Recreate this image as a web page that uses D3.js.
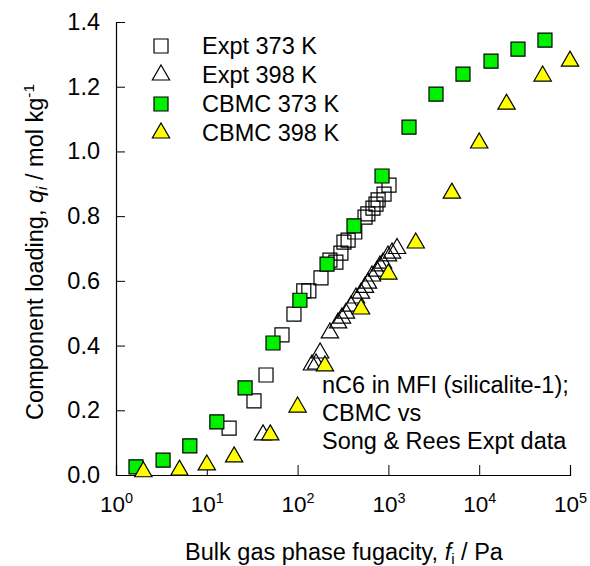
<!DOCTYPE html>
<html>
<head>
<meta charset="utf-8">
<script src="https://cdn.jsdelivr.net/npm/d3@7"></script>
<style>
  html, body { margin: 0; padding: 0; background: #fff; }
  svg { display: block; font-family: Arial, "Liberation Sans", Helvetica, sans-serif; }
</style>
</head>
<body>
<svg id="chart" width="590" height="566"></svg>
<script>
// nC6 adsorption isotherms in MFI: fugacity (Pa) vs loading (mol/kg)
const exptT373 = [
  [17.6, 0.145], [33.1, 0.229], [44.9, 0.309], [67.3, 0.433], [91.2, 0.497],
  [117, 0.569], [133, 0.569], [181, 0.609], [227, 0.664], [264, 0.658],
  [300, 0.686], [324, 0.720], [360, 0.726], [426, 0.751], [553, 0.797],
  [594, 0.807], [676, 0.825], [730, 0.837], [770, 0.850], [895, 0.868],
  [1015, 0.896]
];
const exptT398 = [
  [41.6, 0.124], [144, 0.340], [160, 0.343], [177, 0.377], [227, 0.439],
  [279, 0.470], [308, 0.485], [341, 0.500], [387, 0.522], [440, 0.547],
  [499, 0.562], [552, 0.580], [596, 0.593], [660, 0.615], [748, 0.630],
  [808, 0.646], [872, 0.655], [990, 0.677], [1097, 0.686], [1245, 0.700]
];
const cbmcT373 = [
  [1.66, 0.025], [3.3, 0.046], [6.5, 0.090], [12.9, 0.164], [26.4, 0.269],
  [53.6, 0.408], [106, 0.540], [211, 0.652], [418, 0.770], [851, 0.924],
  [1686, 1.075], [3344, 1.177], [6630, 1.239], [13490, 1.279], [26740, 1.316],
  [53000, 1.344]
];
const cbmcT398 = [
  [2, 0.010], [5, 0.015], [10, 0.031], [20, 0.056], [50, 0.124],
  [100, 0.210], [200, 0.337], [500, 0.513], [1000, 0.621], [2000, 0.717],
  [5000, 0.871], [10000, 1.026], [20000, 1.146], [50000, 1.233], [100000, 1.279]
];
const yTicks = [0, 0.2, 0.4, 0.6, 0.8, 1.0, 1.2, 1.4];
const xDecades = [0, 1, 2, 3, 4, 5];
const legendLabels = ["Expt 373 K", "Expt 398 K", "CBMC 373 K", "CBMC 398 K"];
const noteLines = ["nC6 in MFI (silicalite-1);", "CBMC vs", "Song & Rees Expt data"];

const svg = d3.select("#chart");
const FS = 23.5;
const TICK_FS = 22.5;
const GREEN = "#00f000";
const YELLOW = "#ffff00";

const x = d3.scaleLog().domain([1, 1e5]).range([116, 570]);
const y = d3.scaleLinear().domain([0, 1.4]).range([475, 22]);

// minor tick values
const xMinor = [];
for (let k = 0; k < 5; k++) for (let m = 2; m <= 9; m++) xMinor.push(m * Math.pow(10, k));
const yMinor = d3.range(0, 1.4001, 0.04).map(v => +v.toFixed(2))
  .filter(v => !yTicks.some(t => Math.abs(t - v) < 1e-6));

// y axis (ticks pointing into the plot)
const gy = svg.append("g").attr("transform", `translate(${x.range()[0]},0)`);
gy.call(d3.axisLeft(y).tickValues(yMinor).tickSize(-6).tickFormat(""));
gy.call(d3.axisLeft(y).tickValues(yTicks).tickSize(-9).tickPadding(16)
  .tickFormat(d3.format(".1f")));
gy.selectAll("path.domain").attr("stroke", "#000").attr("stroke-width", 1.2);
gy.selectAll("line").attr("stroke", "#000");
gy.selectAll("text").attr("font-size", FS).attr("fill", "#000").attr("font-family", null);

// x axis (log decades with superscript exponents)
const gx = svg.append("g").attr("transform", `translate(0,${y.range()[0]})`);
gx.call(d3.axisBottom(x).tickValues(xMinor).tickSize(-6).tickFormat(""));
gx.call(d3.axisBottom(x).tickValues(xDecades.map(e => Math.pow(10, e))).tickSize(-10)
  .tickPadding(12).tickFormat(""));
gx.selectAll("path.domain").attr("stroke", "#000").attr("stroke-width", 1.2);
gx.selectAll("line").attr("stroke", "#000");
gx.selectAll(".tick").filter(d => xDecades.some(e => Math.abs(Math.log10(d) - e) < 1e-9))
  .each(function(d) {
    const t = d3.select(this).select("text")
      .attr("font-size", TICK_FS).attr("fill", "#000").attr("font-family", null)
      .attr("dy", "1.1em");
    t.append("tspan").text("10");
    t.append("tspan").attr("font-size", TICK_FS * 0.64).attr("dy", "-0.6em")
      .text(Math.round(Math.log10(d)));
  });

// axis titles
const xt = svg.append("text").attr("x", 344).attr("y", 560).attr("text-anchor", "middle")
  .attr("font-size", FS);
xt.append("tspan").text("Bulk gas phase fugacity, ");
xt.append("tspan").attr("font-style", "italic").text("f");
xt.append("tspan").attr("font-size", FS * 0.65).attr("dy", "0.25em").text("i");
xt.append("tspan").attr("dy", "-0.17em").text(" / Pa");

const yt = svg.append("text").attr("transform", "translate(43,252) rotate(-90)")
  .attr("text-anchor", "middle").attr("font-size", FS);
yt.append("tspan").text("Component loading, ");
yt.append("tspan").attr("font-style", "italic").text("q");
yt.append("tspan").attr("font-style", "italic").attr("font-size", FS * 0.65).attr("dy", "0.25em").text("i");
yt.append("tspan").attr("dy", "-0.17em").text(" / mol kg");
yt.append("tspan").attr("font-size", FS * 0.65).attr("dy", "-0.6em").text("-1");

// marker shapes
const sq = d3.symbol().type(d3.symbolSquare).size(196);
const tri = d3.symbol().type(d3.symbolTriangle).size(130);

const plot = svg.append("g");
function drawSeries(data, gen, fill) {
  plot.append("g").selectAll("path").data(data).join("path")
    .attr("d", gen)
    .attr("transform", d => `translate(${x(d[0])},${y(d[1])})`)
    .attr("fill", fill)
    .attr("stroke", "#000")
    .attr("stroke-width", 1.2);
}
drawSeries(exptT373, sq, "none");
drawSeries(exptT398, tri, "none");
drawSeries(cbmcT373, sq, GREEN);
drawSeries(cbmcT398, tri, YELLOW);

// legend
const legendStyle = [
  { gen: sq, fill: "none" }, { gen: tri, fill: "none" },
  { gen: sq, fill: GREEN }, { gen: tri, fill: YELLOW }
];
const lg = svg.append("g");
legendLabels.forEach((lab, i) => {
  const cy = 46 + i * 29;
  lg.append("path").attr("d", legendStyle[i].gen())
    .attr("transform", `translate(161,${cy})`)
    .attr("fill", legendStyle[i].fill).attr("stroke", "#000").attr("stroke-width", 1.2);
  lg.append("text").attr("x", 202).attr("y", cy + 8).attr("font-size", FS).text(lab);
});

// annotation
svg.append("g").selectAll("text").data(noteLines).join("text")
  .attr("x", 322).attr("y", (d, i) => 393 + i * 28)
  .attr("font-size", FS).text(d => d);
</script>
</body>
</html>
